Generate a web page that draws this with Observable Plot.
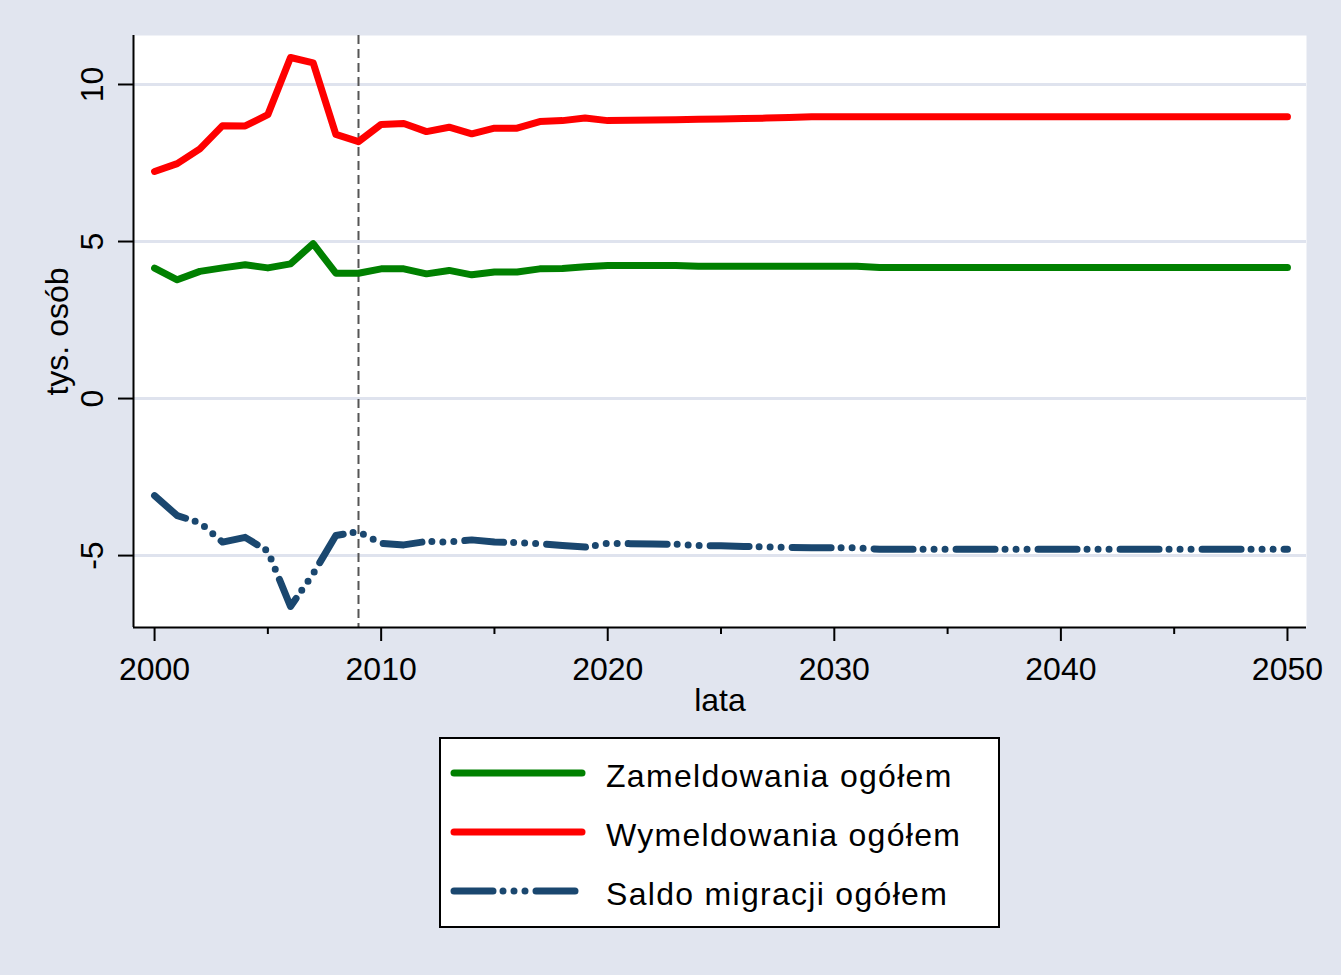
<!DOCTYPE html>
<html>
<head>
<meta charset="utf-8">
<script src="https://cdn.jsdelivr.net/npm/d3@7"></script>
<script src="https://cdn.jsdelivr.net/npm/@observablehq/plot@0.6"></script>
<style>
  html, body { margin: 0; padding: 0; background: #e1e5ef; }
  #wrap { position: relative; width: 1341px; height: 975px; background: #e1e5ef; font-family: "Liberation Sans", Arial, sans-serif; }
  #chart { position: absolute; left: 0; top: 0; }
  #legend { position: absolute; left: 439px; top: 737px; width: 561px; height: 191px; box-sizing: border-box; border: 2px solid #000; background: #fff; }
  #legend svg { position: absolute; left: 0; top: 0; }
</style>
</head>
<body>
<div id="wrap">
  <div id="chart"></div>
  <div id="legend"></div>
</div>
<script>
// ---- data ----
const years = d3.range(2000, 2051);
const zameldowania = [
  4.15, 3.78, 4.05, 4.16, 4.26, 4.16, 4.29, 4.93, 3.99, 3.99,
  4.13, 4.13, 3.97, 4.08, 3.94, 4.03, 4.03, 4.13, 4.14, 4.20,
  4.24, 4.24, 4.24, 4.24, 4.21, 4.21, 4.21, 4.21, 4.21, 4.21,
  4.21, 4.21, 4.17, 4.17, 4.17, 4.17, 4.17, 4.17, 4.17, 4.17,
  4.17, 4.17, 4.17, 4.17, 4.17, 4.17, 4.17, 4.17, 4.17, 4.17,
  4.17
];
const wymeldowania = [
  7.23, 7.48, 7.95, 8.69, 8.68, 9.04, 10.86, 10.69, 8.41, 8.18,
  8.73, 8.76, 8.50, 8.64, 8.43, 8.61, 8.61, 8.82, 8.85, 8.93,
  8.85, 8.86, 8.87, 8.88, 8.89, 8.90, 8.92, 8.93, 8.95, 8.97,
  8.97, 8.97, 8.97, 8.97, 8.97, 8.97, 8.97, 8.97, 8.97, 8.97,
  8.97, 8.97, 8.97, 8.97, 8.97, 8.97, 8.97, 8.97, 8.97, 8.97,
  8.97
];
const saldo = [
  -3.09, -3.73, -3.95, -4.57, -4.42, -4.86, -6.62, -5.58, -4.36, -4.24,
  -4.61, -4.66, -4.55, -4.57, -4.50, -4.57, -4.59, -4.62, -4.68, -4.73,
  -4.61, -4.62, -4.63, -4.64, -4.68, -4.69, -4.71, -4.72, -4.74, -4.75,
  -4.75, -4.75, -4.80, -4.80, -4.80, -4.80, -4.80, -4.80, -4.80, -4.80,
  -4.80, -4.80, -4.80, -4.80, -4.80, -4.80, -4.80, -4.80, -4.80, -4.80,
  -4.80
];
const seriesNames = ["Zameldowania ogółem", "Wymeldowania ogółem", "Saldo migracji ogółem"];
const seriesColors = ["#008000", "#ff0000", "#1a476f"];
const xMajorTicks = [2000, 2010, 2020, 2030, 2040, 2050];
const xMinorTicks = [2005, 2015, 2025, 2035, 2045];
const yTicks = [-5, 0, 5, 10];
const markerYear = [2009];
const xLabel = "lata";
const yLabel = "tys. osób";

// ---- build ----
const gridColor = "#dfe3ee";
const saldoDash = "39,10,0,11,0,11,0,11";
const xDomain = [1999.07, 2050.84];
const yDomain = [-7.29, 11.56];

const toRows = (vals) => years.map((yr, i) => ({year: yr, value: vals[i]}));
const seriesData = [toRows(zameldowania), toRows(wymeldowania), toRows(saldo)];
const lw = 7;

const chart = Plot.plot({
  width: 1341,
  height: 735,
  marginLeft: 133,
  marginRight: 35,
  marginTop: 35,
  marginBottom: 108,
  style: {background: "transparent", fontFamily: '"Liberation Sans", Arial, sans-serif', fontSize: "32px", color: "#000", overflow: "visible"},
  x: {domain: xDomain},
  y: {domain: yDomain},
  marks: [
    Plot.frame({fill: "#fff", stroke: null}),
    Plot.gridY(yTicks, {stroke: gridColor, strokeOpacity: 1, strokeWidth: 3}),
    Plot.ruleX(markerYear, {stroke: "#555", strokeWidth: 2, strokeDasharray: "9,5"}),
    Plot.line(seriesData[0], {x: "year", y: "value", stroke: seriesColors[0], strokeWidth: lw, strokeLinejoin: "round", strokeLinecap: "round"}),
    Plot.line(seriesData[1], {x: "year", y: "value", stroke: seriesColors[1], strokeWidth: lw, strokeLinejoin: "round", strokeLinecap: "round"}),
    Plot.line(seriesData[2], {x: "year", y: "value", stroke: seriesColors[2], strokeWidth: lw, strokeLinejoin: "round", strokeLinecap: "round", strokeDasharray: saldoDash}),
    Plot.ruleX([xDomain[0]], {stroke: "#000", strokeWidth: 2}),
    Plot.ruleY([yDomain[0]], {stroke: "#000", strokeWidth: 2}),
    Plot.axisX({ticks: xMajorTicks, tickSize: 14, tickPadding: 16, tickFormat: d => String(d), label: null, fontSize: 32, strokeWidth: 2}),
    Plot.axisX({ticks: xMinorTicks, tickSize: 7, tickFormat: () => "", label: null, strokeWidth: 2}),
    Plot.axisY({ticks: yTicks, tickSize: 15, tickPadding: 16, tickRotate: -90, tickFormat: d => String(d), label: null, fontSize: 32, strokeWidth: 2}),
    Plot.text([xLabel], {text: d => d, frameAnchor: "bottom", dy: 73, fontSize: 32, lineAnchor: "middle"}),
    Plot.text([yLabel], {text: d => d, frameAnchor: "left", dx: -76, rotate: -90, fontSize: 32, lineAnchor: "middle", textAnchor: "middle"})
  ]
});
document.getElementById("chart").appendChild(chart);

// ---- legend ----
const lg = d3.select("#legend").append("svg").attr("width", 557).attr("height", 187)
  .style("font-family", '"Liberation Sans", Arial, sans-serif');
seriesNames.forEach((name, i) => {
  const cy = 34 + i * 59;
  lg.append("line")
    .attr("x1", 13).attr("x2", 141).attr("y1", cy).attr("y2", cy)
    .attr("stroke", seriesColors[i]).attr("stroke-width", lw)
    .attr("stroke-linecap", "round")
    .attr("stroke-dasharray", i === 2 ? saldoDash : null);
  lg.append("text")
    .attr("x", 165).attr("y", cy + 14)
    .attr("font-size", 32).attr("letter-spacing", 1.3)
    .attr("fill", "#000")
    .text(name);
});
</script>
</body>
</html>
